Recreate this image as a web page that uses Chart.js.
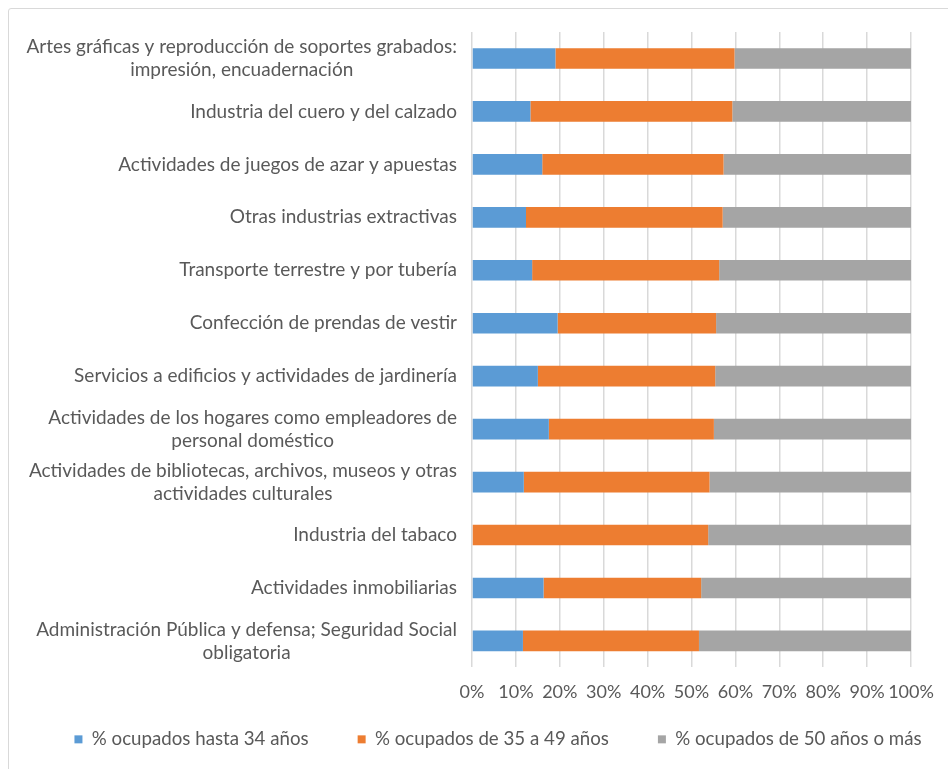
<!DOCTYPE html>
<html>
<head>
<meta charset="utf-8">
<script src="https://cdn.jsdelivr.net/npm/chart.js@4.4.1/dist/chart.umd.min.js"></script>
<style>
  html, body { margin: 0; padding: 0; background: #fff; }
  #wrap { position: relative; width: 948px; height: 769px; overflow: hidden; }
  #frame { position: absolute; left: 8px; top: 8px; width: 980px; height: 800px; border: 1px solid #d9d9d9; border-radius: 3px; }
  #chart { position: absolute; left: 0; top: 0; }
</style>
</head>
<body>
<div id="wrap">
  <div id="frame"></div>
  <canvas id="chart" width="948" height="769"></canvas>
</div>
<script>
// categories (multi-line labels as in the original)
const categories = [
  ["Artes gráficas y reproducción de soportes grabados:", "impresión, encuadernación"],
  "Industria del cuero y del calzado",
  "Actividades de juegos de azar y apuestas",
  "Otras industrias extractivas",
  "Transporte terrestre y por tubería",
  "Confección de prendas de vestir",
  "Servicios a edificios y actividades de jardinería",
  ["Actividades de los hogares como empleadores de", "personal doméstico"],
  ["Actividades de bibliotecas, archivos, museos y otras", "actividades culturales"],
  "Industria del tabaco",
  "Actividades inmobiliarias",
  ["Administración Pública y defensa; Seguridad Social", "obligatoria"],
];
// series names
const seriesNames = [
  "% ocupados hasta 34 años",
  "% ocupados de 35 a 49 años",
  "% ocupados de 50 años o más",
];
// values (%)
const hasta34 = [19.0, 13.3, 16.0, 12.3, 13.7, 19.5, 15.0, 17.5, 11.8, 0.0, 16.3, 11.6];
const de35a49 = [40.8, 46.0, 41.3, 44.8, 42.6, 36.1, 40.4, 37.6, 42.3, 53.8, 35.9, 40.1];
const mas50 = [40.2, 40.7, 42.7, 42.9, 43.7, 44.4, 44.6, 44.9, 45.9, 46.2, 47.8, 48.3];
// x ticks
const xTicks = [0, 10, 20, 30, 40, 50, 60, 70, 80, 90, 100];

const textColor = "#595959";
const fontFamily = "Lato, 'Noto Sans', sans-serif";

//draw category labels: block right aligned, lines centered inside block
const yLabelsPlugin = {
  id: "yLabels",
  afterLayout(chart) {
    //legend: move up under the axis and a bit to the right, like excel
    const lg = chart.legend;
    if (lg) {
      lg.top = 681;
      lg.bottom = 769;
      lg.height = lg.bottom - lg.top;
      lg.left += 24;
      lg.right += 24;
    }
  },
  afterDraw(chart) {
    const ctx = chart.ctx;
    const yScale = chart.scales.y;
    const right = chart.chartArea.left - 15;
    ctx.save();
    ctx.font = `19px ${fontFamily}`;
    ctx.fillStyle = textColor;
    ctx.textAlign = "center";
    ctx.textBaseline = "middle";
    categories.forEach((label, i) => {
      const lines = Array.isArray(label) ? label : [label];
      const w = Math.max(...lines.map((l) => ctx.measureText(l).width));
      const cx = right - w / 2;
      const y0 = yScale.getPixelForValue(i) - (lines.length - 1) * 11.5;
      lines.forEach((l, j) => ctx.fillText(l, cx, y0 + j * 23));
    });
    ctx.restore();
  },
};

const chart = new Chart(document.getElementById("chart"), {
  type: "bar",
  data: {
    labels: categories.map((c) => (Array.isArray(c) ? c.join(" ") : c)),
    datasets: [
      { label: seriesNames[0], data: hasta34, backgroundColor: "#5B9BD5" },
      { label: seriesNames[1], data: de35a49, backgroundColor: "#ED7D31" },
      { label: seriesNames[2], data: mas50, backgroundColor: "#A5A5A5" },
    ],
  },
  options: {
    indexAxis: "y",
    responsive: false,
    animation: false,
    layout: { padding: { left: 0, right: 0, top: 32, bottom: 5 } },
    datasets: { bar: { categoryPercentage: 1, barPercentage: 0.39 } },
    scales: {
      x: {
        stacked: true,
        min: 0,
        max: 100,
        afterBuildTicks: (s) => { s.ticks = xTicks.map((v) => ({ value: v })); },
        grid: { color: "#d9d9d9", lineWidth: 1.5, drawTicks: false },
        border: { display: false },
        ticks: {
          padding: 14,
          maxRotation: 0,
          minRotation: 0,
          autoSkip: false,
          color: textColor,
          font: { family: fontFamily, size: 18 },
          callback: (v) => v + "%",
        },
      },
      y: {
        stacked: true,
        ticks: { display: false },
        grid: { display: false },
        border: { display: false },
        afterFit: (s) => { s.width = 472; },
      },
      y2: {
        position: "right",
        ticks: { display: false },
        grid: { display: false },
        border: { display: false },
        afterFit: (s) => { s.width = 37; },
      },
    },
    plugins: {
      legend: {
        position: "bottom",
        maxHeight: 47,
        labels: {
          boxWidth: 8,
          boxHeight: 8,
          padding: 49,
          color: textColor,
          font: { family: fontFamily, size: 18.7 },
        },
      },
      tooltip: { enabled: false },
    },
  },
  plugins: [yLabelsPlugin],
});
</script>
</body>
</html>
